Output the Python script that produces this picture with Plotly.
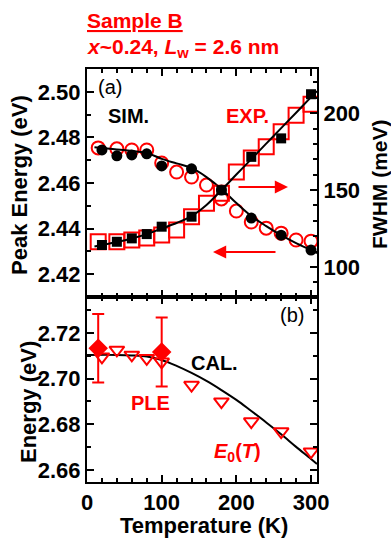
import plotly.graph_objects as go

# ---------------- Panel (a): PL peak energy (left) and FWHM (right) ----------------
# experimental points
T_exp = [15, 40, 60, 80, 100, 120, 140, 160, 180, 200, 220, 240, 260, 280, 300]
peak_exp = [2.4754, 2.4750, 2.4745, 2.4745, 2.4688, 2.4648, 2.4626, 2.4591,
            2.4530, 2.4477, 2.4429, 2.4402, 2.4380, 2.4350, 2.4345]
fwhm_exp = [116.4, 116.4, 117.5, 118.8, 120.8, 124.0, 132.7, 141.4,
            147.9, 161.7, 170.8, 178.1, 187.9, 198.7, 205.8]

# simulated points
T_sim = [20, 40, 60, 80, 100, 140, 180, 220, 260, 300]
peak_sim = [2.4745, 2.4719, 2.4723, 2.4728, 2.4675, 2.4662, 2.4569, 2.4446, 2.4371, 2.4306]
fwhm_sim = [114.3, 116.4, 118.6, 121.4, 126.2, 132.7, 150.0, 171.6, 183.6, 212.3]

# smooth guide curves through the simulation
T_peak_fit = [10, 40, 80, 100, 120, 140, 160, 180, 200, 220, 240, 260, 280, 300, 308]
peak_fit = [2.4757, 2.4747, 2.4731, 2.4706, 2.4686, 2.4666, 2.4626, 2.4574,
            2.4512, 2.4455, 2.4411, 2.4371, 2.4336, 2.4306, 2.4292]
T_fwhm_fit = [10, 20, 40, 60, 80, 100, 120, 140, 160, 180, 200, 220, 240, 260, 280, 300, 308]
fwhm_fit = [113.3, 114.3, 116.2, 118.5, 121.4, 125.0, 128.6, 133.1, 140.3, 150.0,
            160.1, 170.1, 180.2, 190.3, 200.3, 210.4, 214.3]

# ---------------- Panel (b): transition energies ----------------
T_ple = [15, 100]
E_ple = [2.7133, 2.7117]
E_ple_err = [0.0150, 0.0151]

T_e0 = [20, 40, 60, 80, 100, 140, 180, 220, 260, 300]
E0 = [2.7096, 2.7126, 2.7104, 2.7089, 2.7074, 2.6972, 2.6899, 2.6812, 2.6768, 2.6680]

T_cal = [0, 40, 60, 80, 100, 120, 140, 160, 180, 200, 220, 240, 260, 280, 300, 308]
E_cal = [2.7104, 2.7104, 2.7102, 2.7097, 2.7082, 2.7056, 2.7025, 2.6990, 2.6950,
         2.6907, 2.6858, 2.6808, 2.6756, 2.6701, 2.6648, 2.6626]

RED = "rgb(255,0,0)"
BLACK = "black"
FONT = "Liberation Sans, Arial, Helvetica, sans-serif"

# figure geometry (pixels)
W, H = 391, 541
L, R, TOP, B = 87, 74, 69, 59
PW, PH = W - L - R, H - TOP - B
Y_SPLIT = 297  # boundary between the two panels


def px(x):
    return (x - L) / PW


def py(y):
    return (H - B - y) / PH


split = py(Y_SPLIT)

fig = go.Figure()

# panel (a) — experiment
fig.add_trace(go.Scatter(x=T_exp, y=fwhm_exp, mode="markers", yaxis="y2", xaxis="x",
                         marker=dict(symbol="square-open", size=15, color=RED,
                                     line=dict(width=2, color=RED))))
fig.add_trace(go.Scatter(x=T_exp, y=peak_exp, mode="markers", xaxis="x", yaxis="y",
                         marker=dict(symbol="circle-open", size=13, color=RED,
                                     line=dict(width=2, color=RED))))
# panel (a) — simulation
fig.add_trace(go.Scatter(x=T_fwhm_fit, y=fwhm_fit, mode="lines", yaxis="y2", xaxis="x",
                         line=dict(color=BLACK, width=2, shape="spline")))
fig.add_trace(go.Scatter(x=T_peak_fit, y=peak_fit, mode="lines", xaxis="x", yaxis="y",
                         line=dict(color=BLACK, width=2, shape="spline")))
fig.add_trace(go.Scatter(x=T_sim, y=fwhm_sim, mode="markers", yaxis="y2", xaxis="x",
                         marker=dict(symbol="square", size=10, color=BLACK)))
fig.add_trace(go.Scatter(x=T_sim, y=peak_sim, mode="markers", xaxis="x", yaxis="y",
                         marker=dict(symbol="circle", size=11, color=BLACK)))

# panel (b)
fig.add_trace(go.Scatter(x=T_cal, y=E_cal, mode="lines", xaxis="x2", yaxis="y3",
                         line=dict(color=BLACK, width=2, shape="spline")))
fig.add_trace(go.Scatter(x=T_e0, y=E0, mode="markers", xaxis="x2", yaxis="y3",
                         marker=dict(symbol="triangle-down-open", size=13, color=RED,
                                     line=dict(width=2, color=RED))))
fig.add_trace(go.Scatter(x=T_ple, y=E_ple, mode="markers", xaxis="x2", yaxis="y3",
                         error_y=dict(type="data", array=E_ple_err, color=RED,
                                      thickness=2, width=6),
                         marker=dict(symbol="diamond", size=15, color=RED)))

tickfont = dict(family=FONT, size=22, color=BLACK, weight="bold")
common_axis = dict(showline=True, linecolor=BLACK, linewidth=2, ticks="inside",
                   tickcolor=BLACK, tickwidth=1.5, ticklen=7, showgrid=False,
                   zeroline=False, tickfont=tickfont)

fig.update_layout(
    width=W, height=H, margin=dict(l=L, r=R, t=TOP, b=B),
    paper_bgcolor="white", plot_bgcolor="white", showlegend=False,
    xaxis=dict(common_axis, domain=[0, 1], anchor="y", range=[0, 308],
               tickvals=[0, 100, 200, 300], showticklabels=False, mirror="ticks",
               minor=dict(dtick=20, tick0=0, ticks="inside", ticklen=4,
                          tickcolor=BLACK, tickwidth=1.5)),
    yaxis=dict(common_axis, domain=[split, 1], anchor="x", range=[2.41, 2.51],
               tickvals=[2.42, 2.44, 2.46, 2.48, 2.50], tickformat=".2f",
               minor=dict(dtick=0.01, tick0=2.41, ticks="inside", ticklen=4,
                          tickcolor=BLACK, tickwidth=1.5)),
    yaxis2=dict(common_axis, overlaying="y", side="right", anchor="x",
                range=[80.5, 228.7], tickvals=[100, 150, 200],
                minor=dict(dtick=10, tick0=0, ticks="inside", ticklen=4,
                           tickcolor=BLACK, tickwidth=1.5)),
    xaxis2=dict(common_axis, domain=[0, 1], anchor="y3", range=[0, 308],
                tickvals=[0, 100, 200, 300], mirror="ticks",
                minor=dict(dtick=20, tick0=0, ticks="inside", ticklen=4,
                           tickcolor=BLACK, tickwidth=1.5)),
    yaxis3=dict(common_axis, domain=[0, split], anchor="x2", range=[2.6547, 2.7358],
                tickvals=[2.66, 2.68, 2.70, 2.72], tickformat=".2f", mirror="ticks",
                minor=dict(dtick=0.01, tick0=2.65, ticks="inside", ticklen=4,
                           tickcolor=BLACK, tickwidth=1.5)),
)


def label(text, x, y, size=21, color=BLACK, angle=0, xanchor="center"):
    fig.add_annotation(text=text, x=px(x), y=py(y), xref="paper", yref="paper",
                       showarrow=False, textangle=angle, xanchor=xanchor, yanchor="middle",
                       font=dict(family=FONT, size=size, color=color))


# header
label("<b><u>Sample B</u></b>", 85, 20, size=21, color=RED, xanchor="left")
label("<b><i>x</i>~0.24, <i>L</i><sub>w</sub> = 2.6 nm</b>", 85, 48, size=21,
      color=RED, xanchor="left")

# in-panel labels
label("(a)", 110, 87, size=20)
label("<b>SIM.</b>", 128, 116, size=20)
label("<b>EXP.</b>", 247, 116, size=20, color=RED)
label("(b)", 292, 315, size=20)
label("<b>CAL.</b>", 214, 363, size=20)
label("<b>PLE</b>", 150, 403, size=20, color=RED)
label("<b><i>E</i><sub>0</sub>(<i>T</i>)</b>", 237, 452, size=20, color=RED)

# axis titles
label("<b>Peak Energy (eV)</b>", 19, 185, size=22, angle=-90)
label("<b>Energy (eV)</b>", 28, 402, size=22, angle=-90)
label("<b>FWHM (meV)</b>", 379, 184, size=21, angle=-90)
label("<b>Temperature (K)</b>", 204, 525, size=22)

# arrows showing which axis each data set belongs to
for head, tail_dx in (((288, 187), -51), ((213, 252), 64)):
    fig.add_annotation(x=px(head[0]), y=py(head[1]), xref="paper", yref="paper",
                       ax=tail_dx, ay=0, text="", showarrow=True, arrowhead=2,
                       arrowsize=1.2, arrowwidth=2.2, arrowcolor=RED)

fig.write_html("out.html")
